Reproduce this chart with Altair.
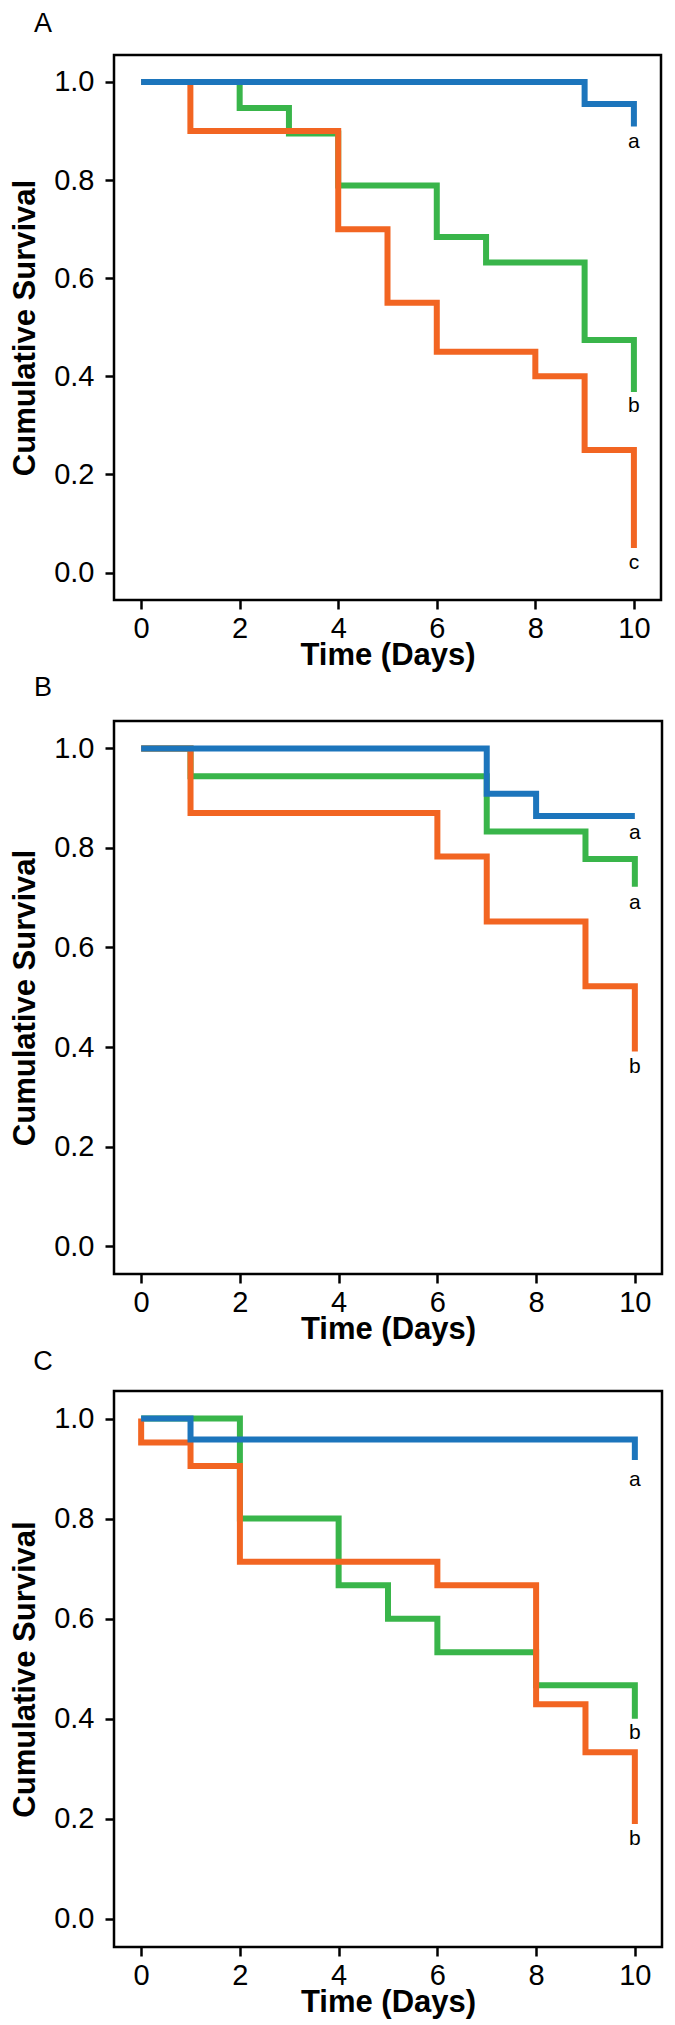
import altair as alt
import pandas as pd

FONT = "Liberation Sans"
COLORS = {"blue": "#1c75bc", "green": "#39b54a", "orange": "#f26522"}

# ---------------- Panel A ----------------
A_blue_t = [0, 9, 10]
A_blue_s = [1.0, 0.955, 0.909]
A_green_t = [0, 2, 3, 4, 6, 7, 9, 10]
A_green_s = [1.0, 0.947, 0.895, 0.789, 0.684, 0.632, 0.474, 0.368]
A_orange_t = [0, 1, 4, 5, 6, 8, 9, 10]
A_orange_s = [1.0, 0.90, 0.70, 0.55, 0.45, 0.40, 0.25, 0.05]
A_lab_text = ["a", "b", "c"]
A_lab_y = [0.877, 0.339, 0.02]

# ---------------- Panel B ----------------
B_blue_t = [0, 7, 8, 10]
B_blue_s = [1.0, 0.909, 0.864, 0.864]
B_green_t = [0, 1, 7, 9, 10]
B_green_s = [1.0, 0.944, 0.833, 0.778, 0.722]
B_orange_t = [0, 1, 6, 7, 9, 10]
B_orange_s = [1.0, 0.870, 0.783, 0.652, 0.522, 0.391]
B_lab_text = ["a", "a", "b"]
B_lab_y = [0.829, 0.690, 0.359]

# ---------------- Panel C ----------------
C_blue_t = [0, 1, 10]
C_blue_s = [1.0, 0.958, 0.917]
C_green_t = [0, 2, 4, 5, 6, 8, 10]
C_green_s = [1.0, 0.80, 0.667, 0.60, 0.533, 0.467, 0.40]
C_orange_t = [0, 0, 1, 2, 6, 8, 9, 10]
C_orange_s = [1.0, 0.952, 0.905, 0.714, 0.667, 0.429, 0.333, 0.190]
C_lab_text = ["a", "b", "b"]
C_lab_y = [0.878, 0.372, 0.159]

LAB_X = 10
X_TICKS = [0, 2, 4, 6, 8, 10]
Y_TICKS = [0.0, 0.2, 0.4, 0.6, 0.8, 1.0]
X_DOMAIN = [-0.55, 10.55]
Y_DOMAIN = [-0.056, 1.055]


def series_df(t, s):
    return pd.DataFrame({"t": t, "s": s, "o": list(range(len(t)))})


def make_panel(letter, series, lab_text, lab_y, w, h, letter_dy):
    xs = alt.Scale(domain=X_DOMAIN, nice=False, zero=False)
    ys = alt.Scale(domain=Y_DOMAIN, nice=False, zero=False)
    xaxis = alt.Axis(values=X_TICKS, title="Time (Days)", format="d",
                     labelFontSize=29, titleFontSize=31, titleFontWeight="bold",
                     labelFont=FONT, titleFont=FONT, tickSize=9, tickWidth=2.5,
                     tickColor="black", labelColor="black", titleColor="black",
                     domain=False, grid=False, labelPadding=5, titlePadding=-3,
                     labelFlush=False)
    yaxis = alt.Axis(values=Y_TICKS, title="Cumulative Survival", format=".1f",
                     labelFontSize=29, titleFontSize=31, titleFontWeight="bold",
                     labelFont=FONT, titleFont=FONT, tickSize=9, tickWidth=2.5,
                     tickColor="black", labelColor="black", titleColor="black",
                     domain=False, grid=False, labelPadding=11, titlePadding=12,
                     labelFlush=False)
    X = alt.X("t:Q", scale=xs, axis=xaxis)
    Y = alt.Y("s:Q", scale=ys, axis=yaxis)
    layers = []
    for name in ["green", "orange", "blue"]:
        t, s = series[name]
        df = series_df(t, s)
        layers.append(
            alt.Chart(df).mark_line(interpolate="step-after", strokeWidth=6,
                                    color=COLORS[name], strokeCap="butt")
            .encode(x=X, y=Y, order="o:Q")
        )
    lab_df = pd.DataFrame({"t": [LAB_X] * len(lab_text), "s": lab_y, "txt": lab_text})
    layers.append(
        alt.Chart(lab_df).mark_text(font=FONT, fontSize=21, color="black",
                                    align="center", baseline="middle")
        .encode(x=X, y=Y, text="txt:N")
    )
    let_df = pd.DataFrame({"L": [letter]})
    layers.append(
        alt.Chart(let_df).mark_text(font=FONT, fontSize=27, color="black",
                                    align="center", baseline="middle")
        .encode(x=alt.value(-71), y=alt.value(letter_dy), text="L:N")
    )
    return alt.layer(*layers).properties(width=w, height=h)


pA = make_panel("A", {"blue": (A_blue_t, A_blue_s), "green": (A_green_t, A_green_s),
                      "orange": (A_orange_t, A_orange_s)},
                A_lab_text, A_lab_y, 547, 545, -31.3)
pB = make_panel("B", {"blue": (B_blue_t, B_blue_s), "green": (B_green_t, B_green_s),
                      "orange": (B_orange_t, B_orange_s)},
                B_lab_text, B_lab_y, 548, 553, -33.4)
pC = make_panel("C", {"blue": (C_blue_t, C_blue_s), "green": (C_green_t, C_green_s),
                      "orange": (C_orange_t, C_orange_s)},
                C_lab_text, C_lab_y, 548, 556, -29)

chart = alt.vconcat(pA, pB, pC, spacing=0).properties(
    padding=0, background="white"
).configure_view(stroke="black", strokeWidth=2.5)

chart.save("out.html", embed_options={"renderer": "svg", "actions": False})
